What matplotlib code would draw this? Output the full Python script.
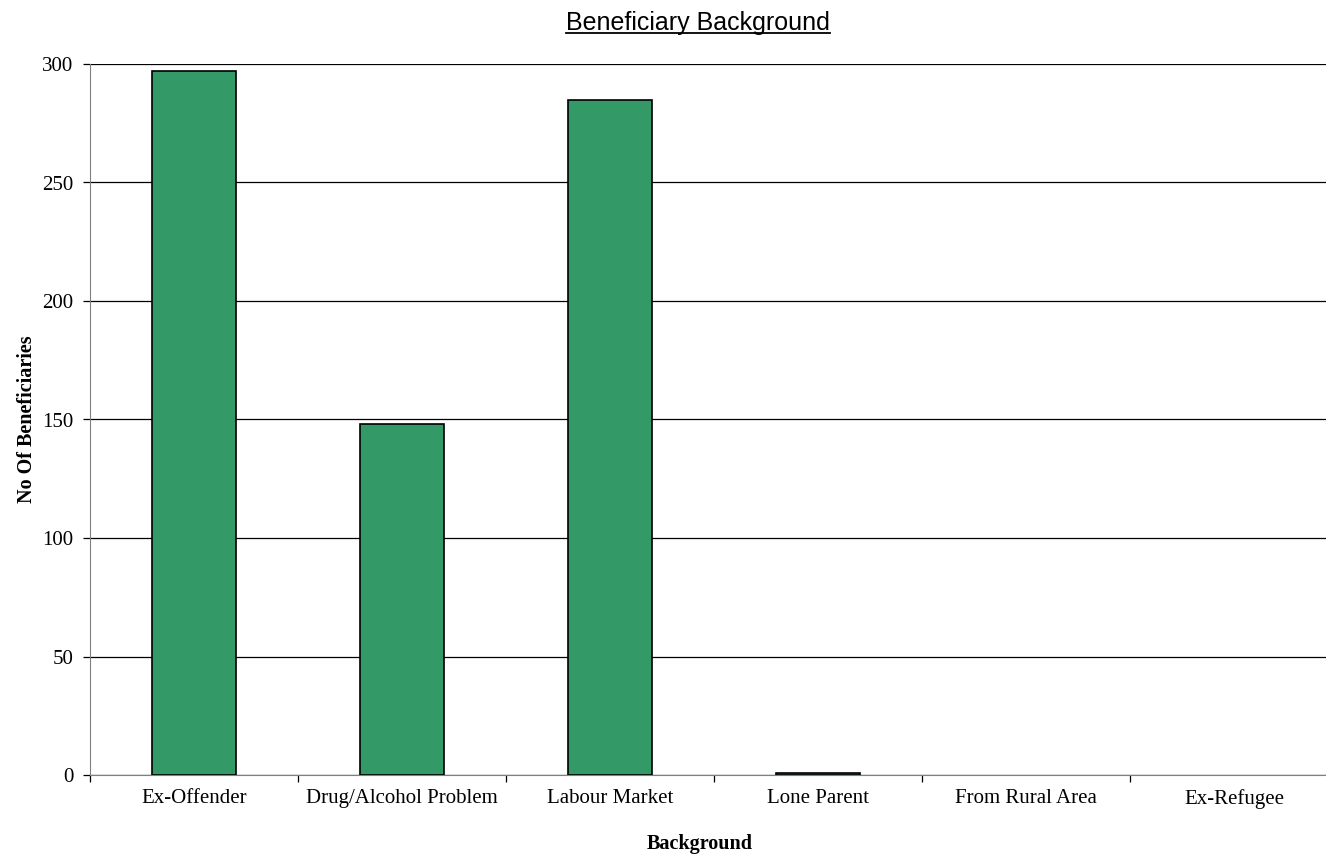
import matplotlib
matplotlib.use("Agg")
import matplotlib.pyplot as plt
from matplotlib.lines import Line2D

categories = ["Ex-Offender", "Drug/Alcohol Problem", "Labour Market", "Lone Parent", "From Rural Area", "Ex-Refugee"]
values = [297, 148, 285, 1, 0, 0]
yticks = [0, 50, 100, 150, 200, 250, 300]

serif = ["Liberation Serif", "DejaVu Serif"]
sans = ["Liberation Sans", "DejaVu Sans"]

fig = plt.figure(figsize=(13.26, 8.55), dpi=100)
ax = fig.add_axes([90/1326, 1-775/855, (1338-90)/1326, (775-64)/855])

x = list(range(len(categories)))
bars = ax.bar(x, values, width=0.40, color="#339966", edgecolor="black", linewidth=1.2, zorder=3)
for b, v in zip(bars, values):
    if v == 0:
        b.set_linewidth(0)

ax.set_xlim(-0.5, len(categories) - 0.5)
ax.set_ylim(0, 300)
ax.set_yticks(yticks)
ax.set_yticklabels([str(v) for v in yticks], fontfamily=serif, fontsize=15)
ax.yaxis.grid(True, color="black", linewidth=0.9, zorder=0)
ax.set_axisbelow(True)

ax.set_xticks([i + 0.5 for i in range(-1, len(categories))], minor=False)
ax.set_xticklabels([""] * (len(categories) + 1))
ax.set_xticks(x, minor=True)
ax.set_xticklabels(categories, minor=True, fontfamily=serif, fontsize=15)
ax.tick_params(axis="x", which="minor", length=0, pad=10)
ax.tick_params(axis="x", which="major", length=5, color="black", width=0.9)
ax.tick_params(axis="y", length=5, width=0.9, pad=7)

for s in ["top", "right"]:
    ax.spines[s].set_visible(False)
ax.spines["left"].set_color("#808080")
ax.spines["bottom"].set_color("#808080")

ax.set_ylabel("No Of Beneficiaries", fontfamily=serif, fontsize=14.5, fontweight="bold", labelpad=4)
ax.set_xlabel("Background", fontfamily=serif, fontsize=14.5, fontweight="bold", labelpad=18)
ax.xaxis.label.set_x((700 - 90) / (1338 - 90))

title = fig.text(698/1326, 1-23/855, "Beneficiary Background", fontfamily=sans, fontsize=18,
                 ha="center", va="center")
fig.canvas.draw()
bb = title.get_window_extent(fig.canvas.get_renderer())
inv = fig.transFigure.inverted()
(x0, y0), (x1, y1) = inv.transform([[bb.x0, bb.y0], [bb.x1, bb.y1]])
uy = y0 + 0.1 * (y1 - y0)
fig.add_artist(Line2D([x0, x1], [uy, uy], transform=fig.transFigure, color="black", linewidth=1.3))

fig.savefig("out.png", dpi=100)
